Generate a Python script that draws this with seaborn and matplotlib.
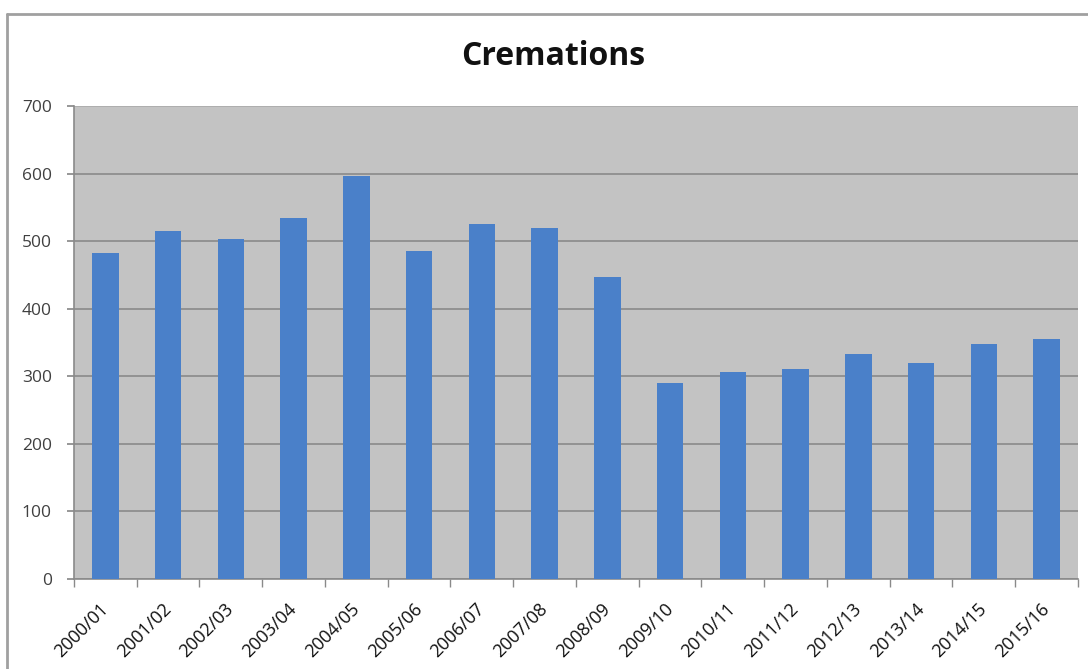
import matplotlib
matplotlib.use("Agg")
import matplotlib.pyplot as plt
import matplotlib.transforms as mtransforms
import seaborn as sns
import pandas as pd
from matplotlib.lines import Line2D

years = ["2000/01", "2001/02", "2002/03", "2003/04", "2004/05", "2005/06",
         "2006/07", "2007/08", "2008/09", "2009/10", "2010/11", "2011/12",
         "2012/13", "2013/14", "2014/15", "2015/16"]
cremations = [482, 515, 503, 535, 596, 485, 525, 520, 447, 290, 307, 311,
              333, 320, 348, 355]

df = pd.DataFrame({"year": years, "cremations": cremations})

sns.set_theme(style="white")
plt.rcParams["font.family"] = ["Open Sans", "DejaVu Sans"]

fig = plt.figure(figsize=(10.88, 6.69), dpi=100)
ax = fig.add_axes([0.068, 0.1345, 0.9228, 0.707])
ax.set_facecolor("#c3c3c3")

sns.barplot(data=df, x="year", y="cremations", color="#4a80c9",
            width=0.42, saturation=1, linewidth=0, ax=ax, zorder=3)

ax.set_ylim(0, 700)
ax.set_xlim(-0.5, len(years) - 0.5)
ax.set_yticks(range(0, 701, 100))
ax.yaxis.grid(True, color="#858585", linewidth=1.1, zorder=1)
ax.set_axisbelow(True)
# the top gridline is lighter in the reference
ax.get_ygridlines()[-1].set_color("#a8a8a8")

ax.set_xlabel("")
ax.set_ylabel("")
ax.tick_params(axis="y", labelsize=12.5, labelcolor="#404040", length=5,
               color="#8a8a8a", left=True, pad=11)
ax.tick_params(axis="x", which="major", length=0, labelsize=13,
               labelcolor="#111111", pad=15)
ax.set_xticks([i + 0.5 for i in range(-1, len(years))], minor=True)
ax.tick_params(axis="x", which="minor", length=6, color="#8a8a8a",
               bottom=True)
shift = mtransforms.ScaledTranslation(-6 / 100, 0, fig.dpi_scale_trans)
for lab in ax.get_xticklabels():
    lab.set_rotation(45)
    lab.set_ha("right")
    lab.set_rotation_mode("anchor")
    lab.set_transform(lab.get_transform() + shift)

for side in ["top", "right"]:
    ax.spines[side].set_visible(False)
for side in ["left", "bottom"]:
    ax.spines[side].set_color("#8a8a8a")
    ax.spines[side].set_linewidth(1.2)

fig.text(0.508, 0.916, "Cremations", ha="center", va="center",
         fontsize=23, fontweight="bold", color="#111111")

# chart frame (top and left edges visible)
fig.add_artist(Line2D([0.0065, 1.0], [0.979, 0.979], color="#a0a0a0",
                      linewidth=2, transform=fig.transFigure))
fig.add_artist(Line2D([0.0065, 0.0065], [0.0, 0.979], color="#a0a0a0",
                      linewidth=2, transform=fig.transFigure))

fig.savefig("out.png", dpi=100)
